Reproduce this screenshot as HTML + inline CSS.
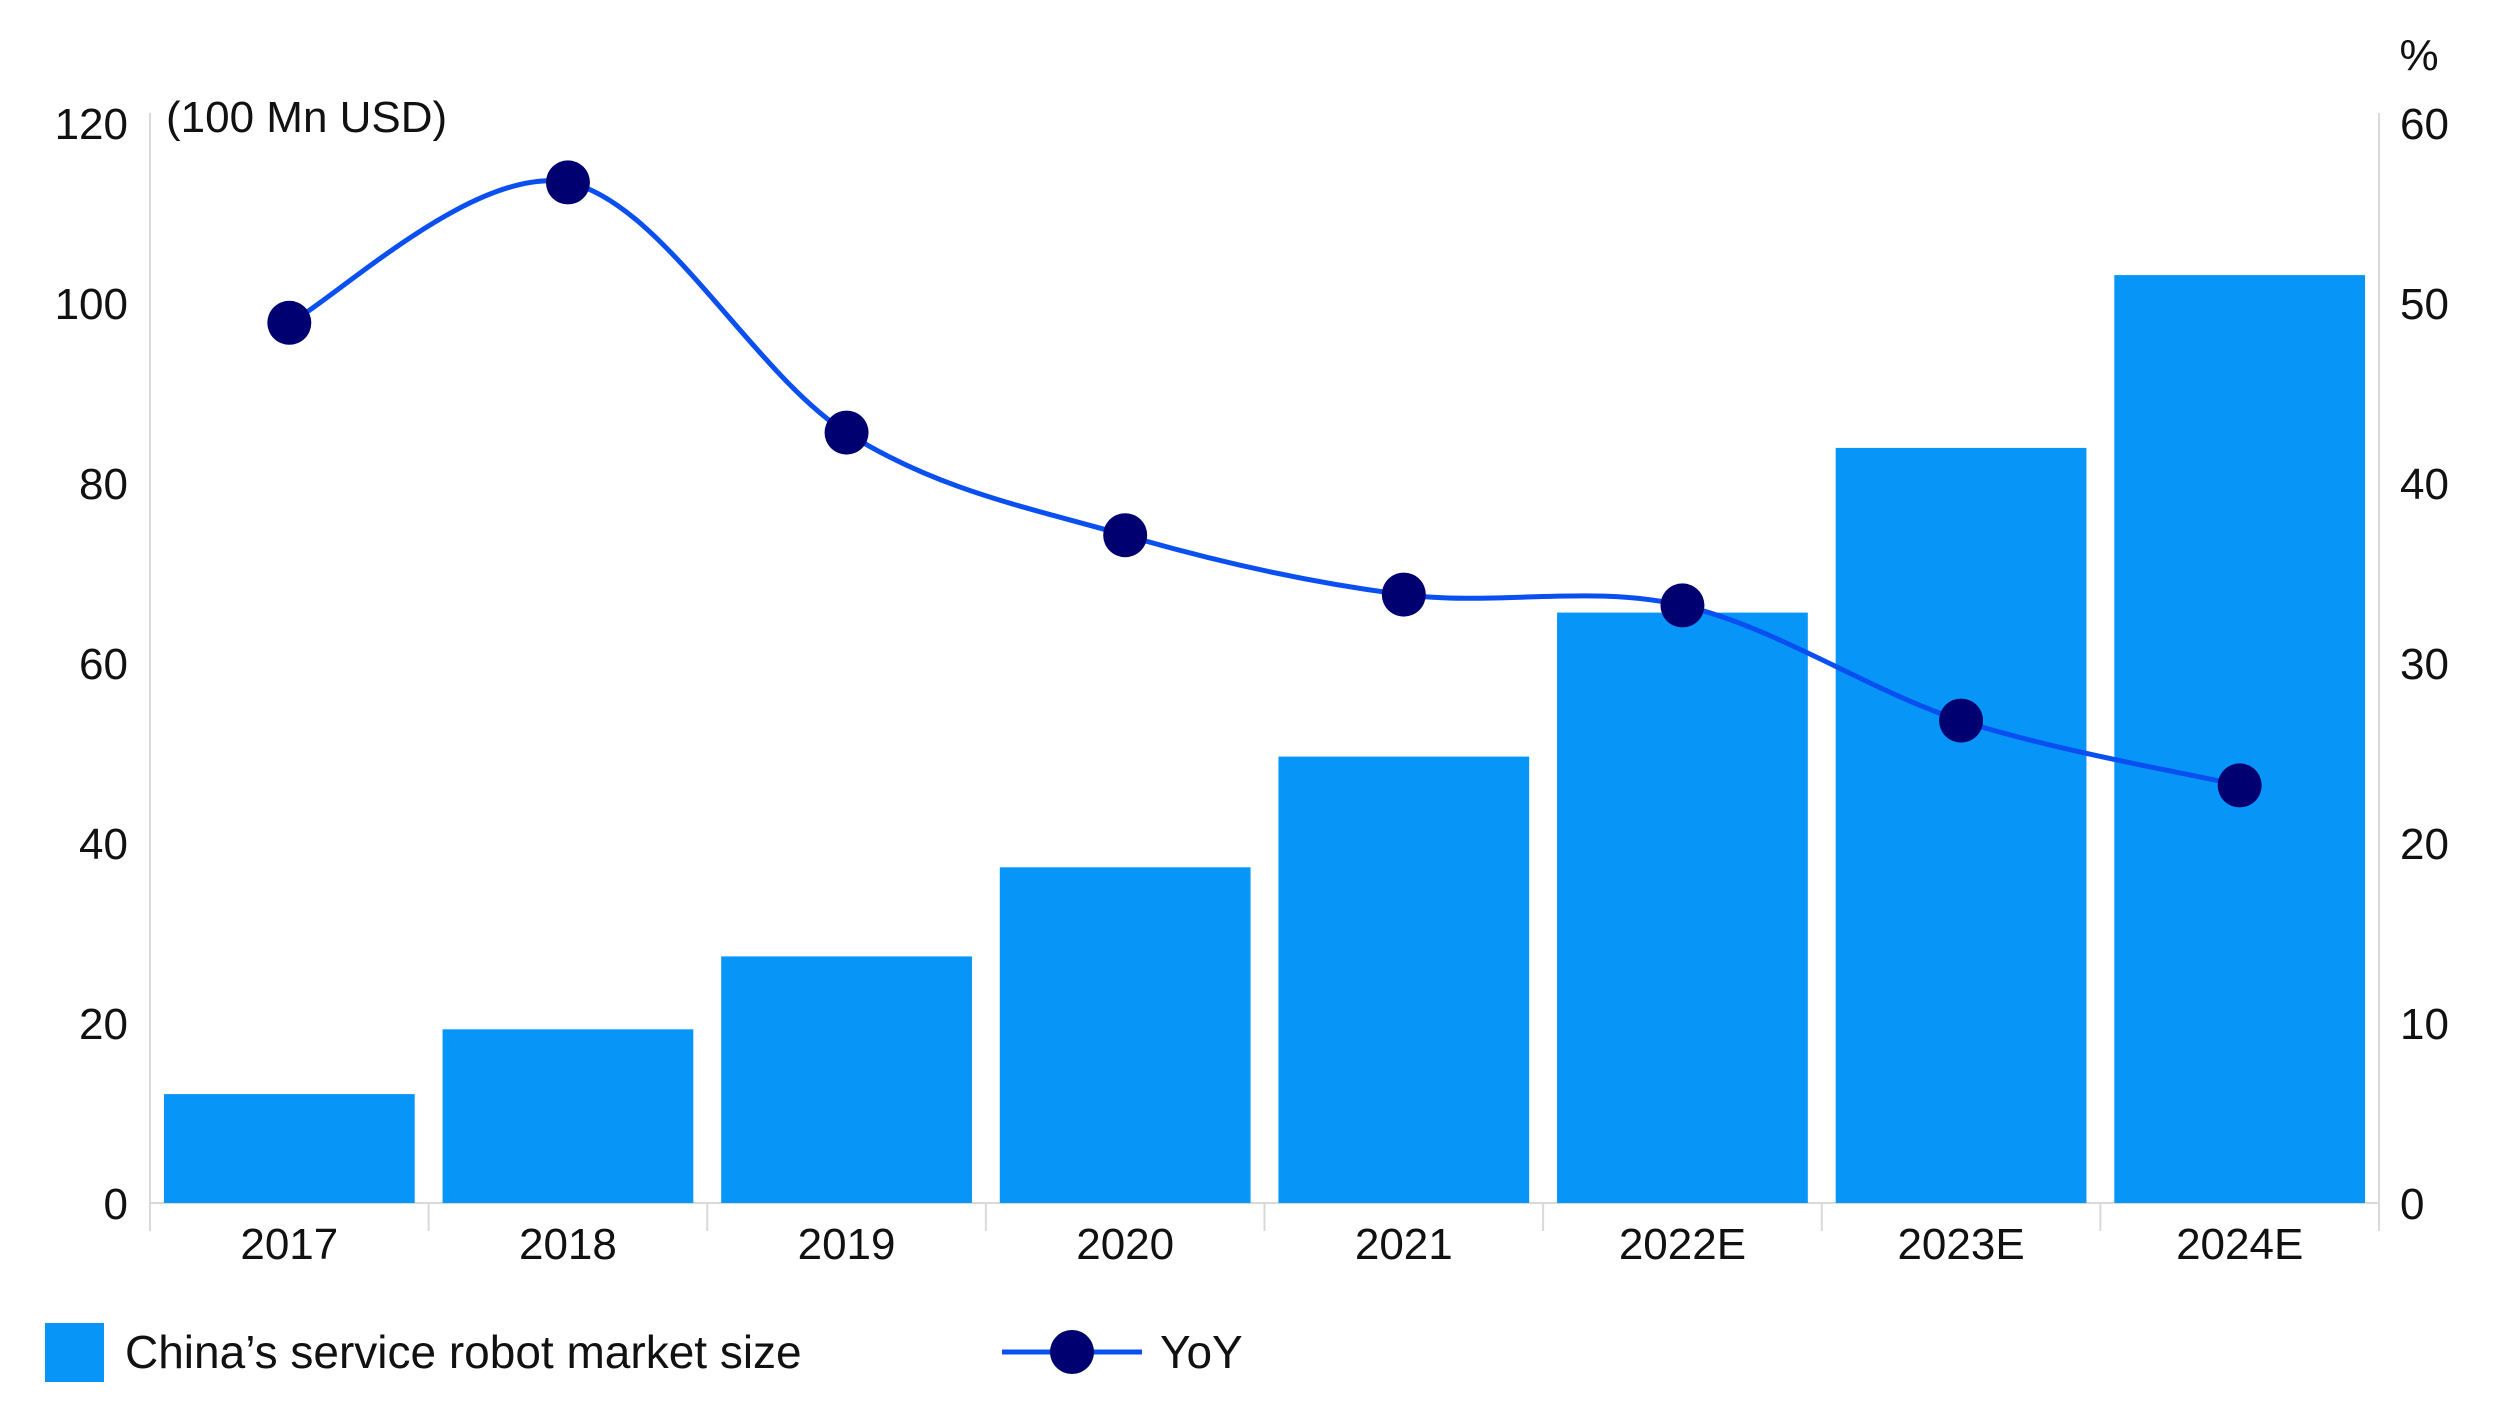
<!DOCTYPE html>
<html><head><meta charset="utf-8"><style>
html,body{margin:0;padding:0;background:#fff;}
svg{display:block;font-family:"Liberation Sans",sans-serif;}
</style></head><body>
<svg id="chart" width="2496" height="1404" viewBox="0 0 2496 1404">
<g id="grid"></g>
<g id="bars"></g>
<g id="line"></g>
<g id="labels"></g>
<text x="166" y="132" font-size="44" fill="#111">(100 Mn USD)</text>
<text x="2419" y="70" font-size="44" fill="#111" text-anchor="middle">%</text>
<g>
<rect x="45" y="1323" width="59" height="59" fill="#0796f8"/>
<text x="125" y="1368" font-size="46" fill="#111">China’s service robot market size</text>
<line x1="1002" y1="1352" x2="1142" y2="1352" stroke="#0a4ff0" stroke-width="5"/>
<circle cx="1072" cy="1352" r="22" fill="#000070"/>
<text x="1160" y="1368" font-size="46" fill="#111">YoY</text>
</g>
</svg>
<script>
const categories=["2017","2018","2019","2020","2021","2022E","2023E","2024E"];
const marketSize=[12.1,19.3,27.4,37.3,49.6,65.6,83.9,103.1];
const yoy=[48.9,56.7,42.8,37.1,33.8,33.2,26.8,23.2];
const leftTicks=[0,20,40,60,80,100,120];
const rightTicks=[0,10,20,30,40,50,60];
const NS="http://www.w3.org/2000/svg";
const X0=150,X1=2379,Y0=1203,YT=123;
const cw=(X1-X0)/categories.length;
const yL=v=>Y0-(v/120)*(Y0-YT);
const yR=v=>Y0-(v/60)*(Y0-YT);
const xc=i=>X0+cw*(i+0.5);
function mk(t,a,p){const e=document.createElementNS(NS,t);for(const k in a)e.setAttribute(k,a[k]);p.appendChild(e);return e;}
const grid=document.getElementById('grid'),bars=document.getElementById('bars'),line=document.getElementById('line'),labels=document.getElementById('labels');
let e=mk('line',{x1:X0,y1:YT-10,x2:X0,y2:Y0,stroke:'#d9d9d9','stroke-width':2},grid);

e=mk('line',{x1:X1,y1:YT-10,x2:X1,y2:Y0,stroke:'#d9d9d9','stroke-width':2},grid);

e=mk('line',{x1:X0,y1:Y0,x2:X1,y2:Y0,stroke:'#d9d9d9','stroke-width':2},grid);

for(let i=0;i<=categories.length;i++){
  e=mk('line',{x1:X0+cw*i,y1:Y0,x2:X0+cw*i,y2:Y0+28,stroke:'#d9d9d9','stroke-width':2},grid);
  
}
leftTicks.forEach(v=>{
  e=mk('text',{x:128,y:yL(v)+16,'font-size':44,fill:'#111','text-anchor':'end'},labels);e.textContent=v;
  
});
rightTicks.forEach(v=>{
  e=mk('text',{x:2400,y:yR(v)+16,'font-size':44,fill:'#111'},labels);e.textContent=v;
  
});
const bw=cw*0.9;
categories.forEach((c,i)=>{
  e=mk('rect',{x:xc(i)-bw/2,y:yL(marketSize[i]),width:bw,height:Y0-yL(marketSize[i]),fill:'#0796f8'},bars);
  
  e=mk('text',{x:xc(i),y:1259,'font-size':44,fill:'#111','text-anchor':'middle'},labels);e.textContent=c;
  
});
const pts=yoy.map((v,i)=>[xc(i),yR(v)]);
let d='M'+pts[0][0]+','+pts[0][1];
for(let i=0;i<pts.length-1;i++){
  const p0=pts[i-1]||pts[i],p1=pts[i],p2=pts[i+1],p3=pts[i+2]||p2;
  const t=0.5/3*2*0.5;
  const c1=[p1[0]+(p2[0]-p0[0])/6,p1[1]+(p2[1]-p0[1])/6];
  const c2=[p2[0]-(p3[0]-p1[0])/6,p2[1]-(p3[1]-p1[1])/6];
  d+=' C'+c1.join(',')+' '+c2.join(',')+' '+p2.join(',');
}
e=mk('path',{d:d,fill:'none',stroke:'#0a4ff0','stroke-width':5},line);

pts.forEach((p,i)=>{
  e=mk('circle',{cx:p[0],cy:p[1],r:22,fill:'#000070'},line);
  
});
</script>
</body></html>
